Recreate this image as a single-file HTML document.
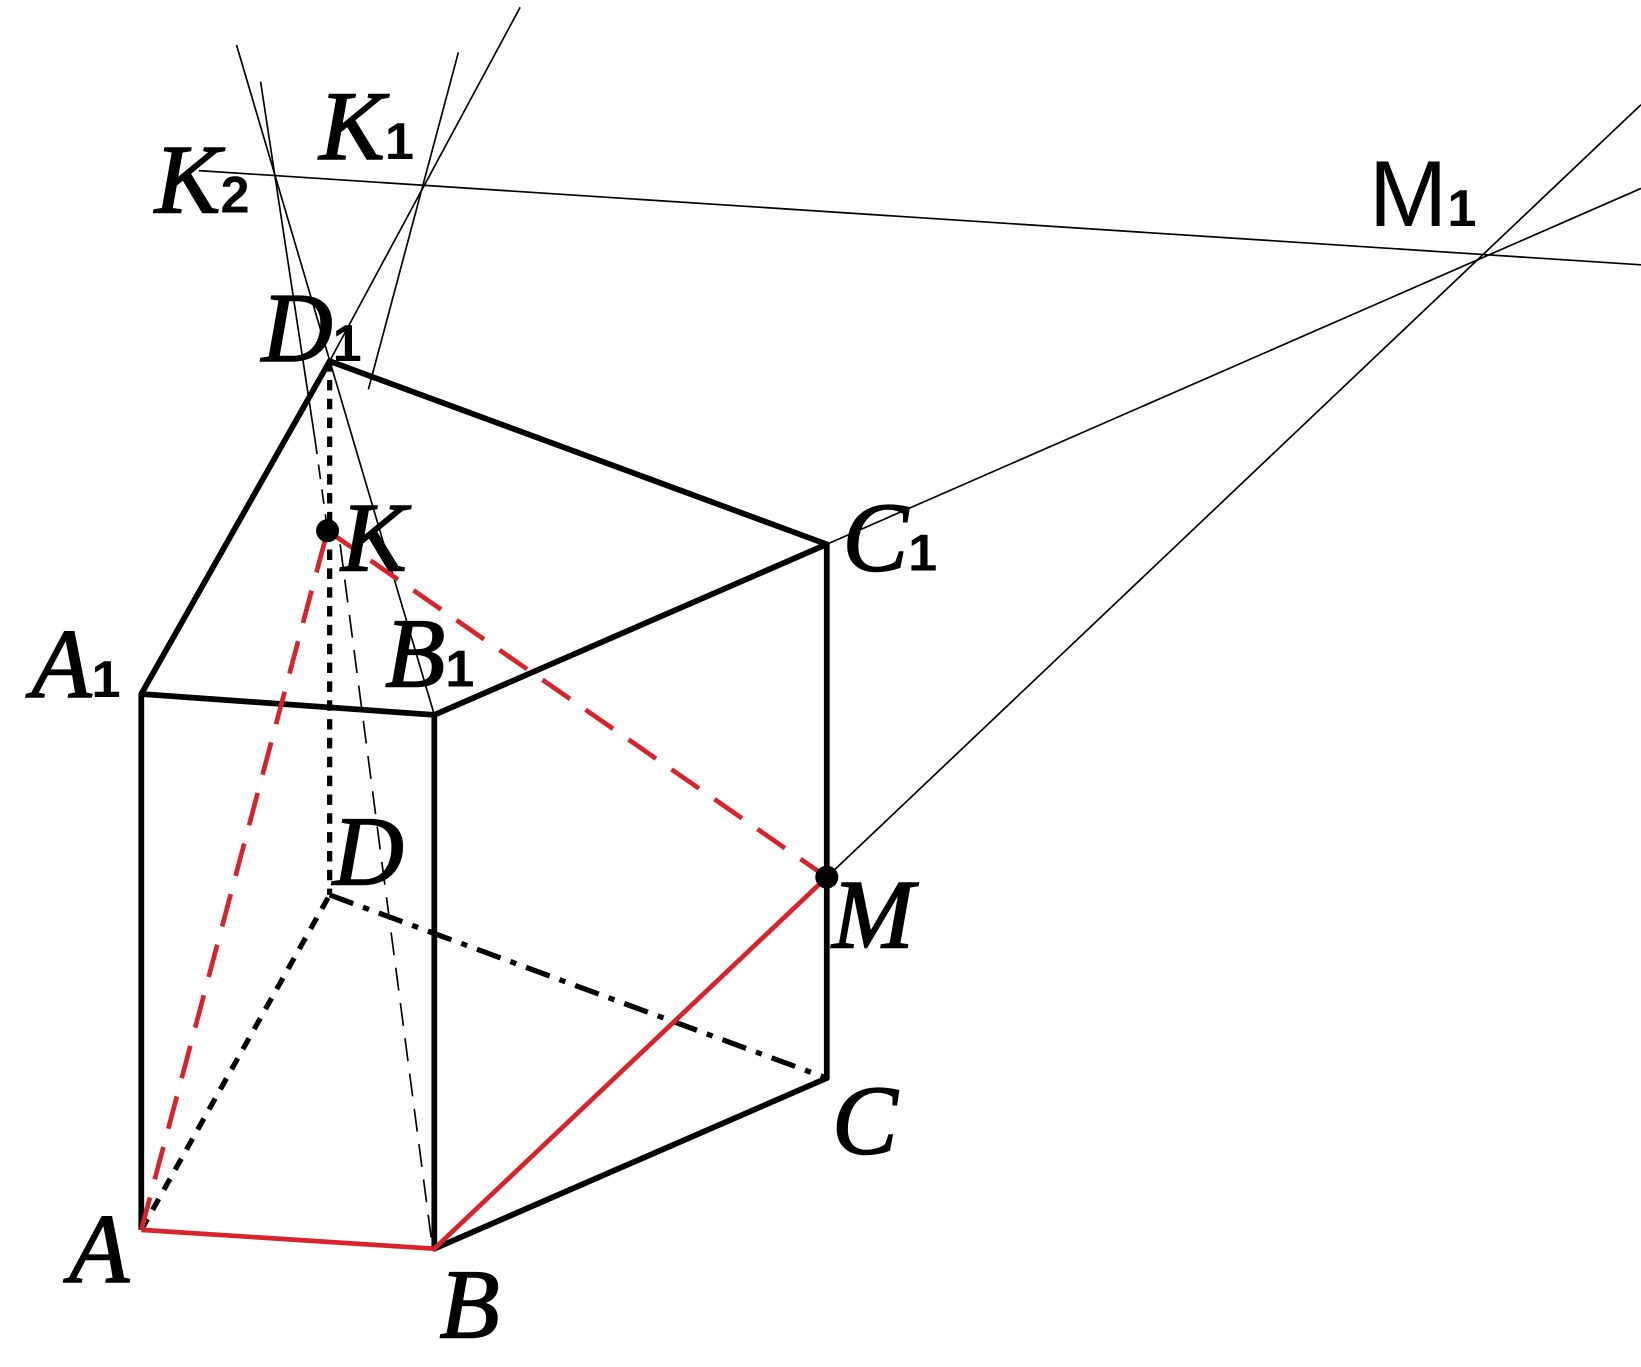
<!DOCTYPE html>
<html><head><style>
html,body{margin:0;padding:0;background:#fff;}
svg{display:block}
.l{font-family:"Liberation Serif",serif;font-style:italic;font-size:94px;fill:#000;stroke:#000;stroke-width:1.5}
.s{font-family:"Liberation Sans",sans-serif;font-size:50px;font-style:normal;font-weight:bold;stroke-width:0}
</style></head><body>
<svg width="1641" height="1367" viewBox="0 0 1568 1306" preserveAspectRatio="none" xmlns="http://www.w3.org/2000/svg">
<rect width="1568" height="1306" fill="#fff"/>
<g stroke="#000" stroke-width="1.6" fill="none">
<line x1="190" y1="163" x2="1568" y2="253"/>
<line x1="790" y1="520" x2="1568" y2="180"/>
<line x1="790" y1="838" x2="1568" y2="100"/>
<line x1="497" y1="7" x2="315" y2="345"/>
<line x1="438" y1="50" x2="352" y2="372"/>
<line x1="226" y1="43" x2="415" y2="683"/>
<line x1="249" y1="78" x2="301" y2="420"/>
<line x1="301" y1="420" x2="313" y2="507" stroke-dasharray="14 10"/>
<line x1="325" y1="520" x2="413" y2="1190" stroke-dasharray="22 12"/>
</g>
<g stroke="#000" stroke-width="5.5" fill="none" stroke-linejoin="round">
<polyline points="135,1175 135,663 415,683 415,1193 790,1030 790,520 415,683"/>
<polyline points="135,663 315,345 790,520"/>
</g>
<g stroke="#000" stroke-width="5" fill="none">
<line x1="315" y1="345" x2="315" y2="855" stroke-dasharray="10 8"/>
<line x1="135" y1="1175" x2="315" y2="855" stroke-dasharray="12 10"/>
<line x1="315" y1="855" x2="790" y2="1030" stroke-dasharray="24 10 6 10"/>
</g>
<g stroke="#d9232a" stroke-width="4.5" fill="none">
<polyline points="135,1175 415,1193 790,838"/>
<line x1="135" y1="1175" x2="313" y2="507" stroke-dasharray="32 18"/>
<line x1="313" y1="507" x2="790" y2="838" stroke-dasharray="32 18"/>
</g>
<circle cx="313" cy="507" r="11" fill="#000"/>
<circle cx="790" cy="838" r="11" fill="#000"/>
<text class="l" x="30" y="666">A<tspan class="s">1</tspan></text>
<text class="l" x="368" y="656">B<tspan class="s">1</tspan></text>
<text class="l" x="805" y="545">C<tspan class="s">1</tspan></text>
<text class="l" x="250" y="345">D<tspan class="s">1</tspan></text>
<text class="l" x="305" y="152">K<tspan class="s">1</tspan></text>
<text class="l" x="148" y="203">K<tspan class="s">2</tspan></text>
<text style="font-family:'Liberation Sans',sans-serif;font-size:90px" x="1308" y="216">M<tspan style="font-size:50px;font-weight:bold">1</tspan></text>
<text class="l" x="326" y="545">K</text>
<text class="l" x="318" y="845">D</text>
<text class="l" x="795" y="905">M</text>
<text class="l" x="795" y="1102">C</text>
<text class="l" x="66" y="1225">A</text>
<text class="l" x="420" y="1278">B</text>
</svg>
</body></html>
